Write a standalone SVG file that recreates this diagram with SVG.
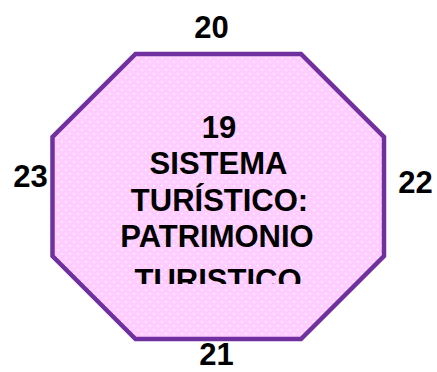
<svg xmlns="http://www.w3.org/2000/svg" width="437" height="372" viewBox="0 0 437 372">
  <style>
    .t { font-family: "Liberation Sans", Arial, sans-serif; font-weight: bold; font-size: 31px; fill: #000; text-anchor: middle; }
  </style>
  <defs>
    <pattern id="dots" width="8" height="8" patternUnits="userSpaceOnUse">
      <rect width="8" height="8" fill="#FFCCFF"/>
      <rect x="1" y="1" width="1.5" height="1.5" fill="#FFFFFF"/>
      <rect x="5" y="5" width="1.5" height="1.5" fill="#FFFFFF"/>
    </pattern>
    <clipPath id="textclip">
      <rect x="60" y="100" width="320" height="184"/>
    </clipPath>
  </defs>
  <rect width="437" height="372" fill="#FFFFFF"/>
  <g id="node-19">
    <polygon points="135.5,54 301,54 384,137 384,256 301,339 135.5,339 52.5,256 52.5,137" fill="url(#dots)" stroke="#7030A0" stroke-width="4.5" stroke-linejoin="miter"/>
    <g clip-path="url(#textclip)">
      <text class="t" x="219" y="138">19</text>
      <text class="t" x="218.5" y="173.5">SISTEMA</text>
      <text class="t" x="219.5" y="210.5">TURÍSTICO:</text>
      <text class="t" x="217" y="247">PATRIMONIO</text>
      <text class="t" x="218" y="291">TURISTICO</text>
    </g>
  </g>
  <g id="labels">
    <text class="t" x="211.5" y="38">20</text>
    <text class="t" x="216.5" y="365">21</text>
    <text class="t" x="415.5" y="193">22</text>
    <text class="t" x="30.5" y="187">23</text>
  </g>
  <g id="connectors"></g>
</svg>
